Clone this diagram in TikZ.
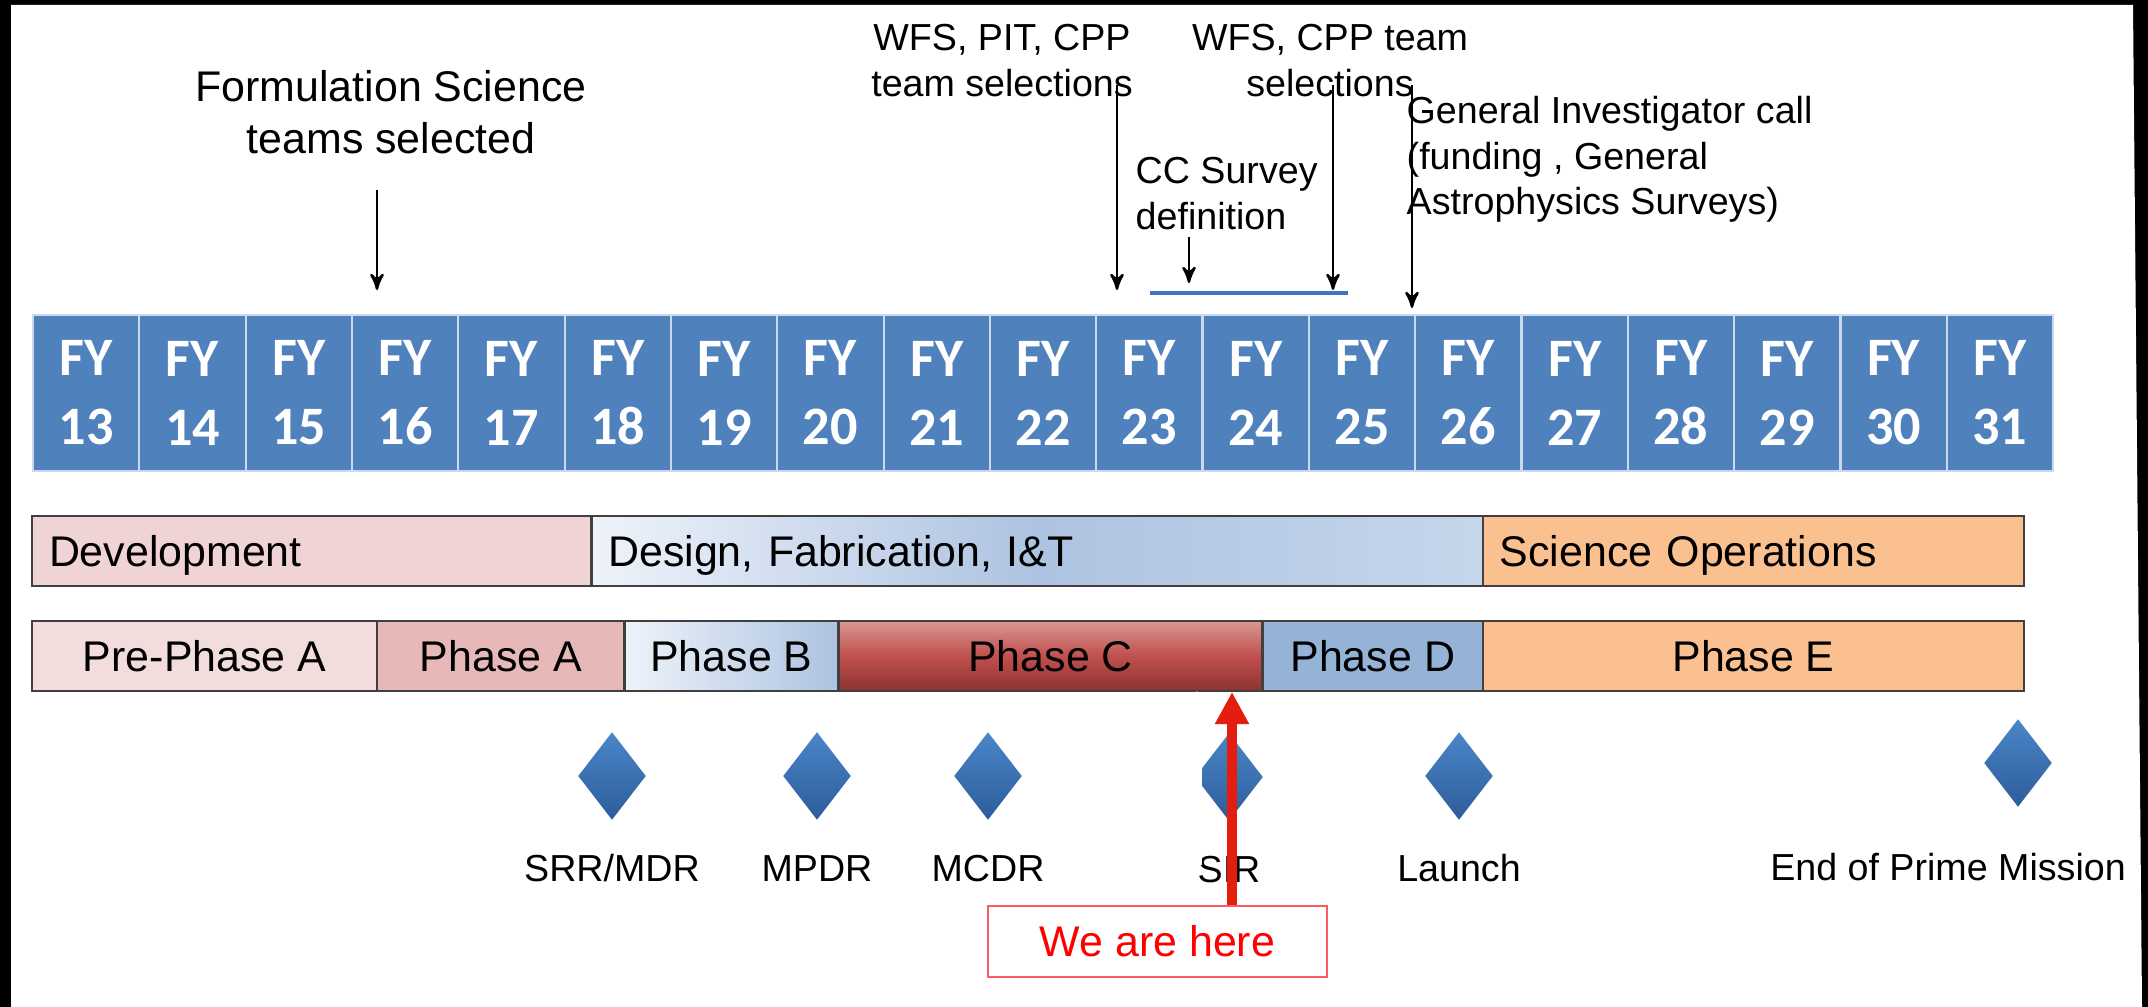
\documentclass[tikz,border=0pt]{standalone}
\usepackage{fontspec}
\setmainfont{Liberation Sans}
\newfontfamily\fyfont{Carlito}
\usepackage{tikz}
\usetikzlibrary{arrows,arrows.meta,positioning,shapes.geometric}

\definecolor{fyblue}{HTML}{4F81BD}
\definecolor{barline}{HTML}{404040}
\definecolor{devpink}{HTML}{F0D3D4}
\definecolor{prepink}{HTML}{F2DDDC}
\definecolor{phApink}{HTML}{E6B9B8}
\definecolor{lightblue}{HTML}{EEF3FA}
\definecolor{midblue}{HTML}{ADC3E1}
\definecolor{paleblue}{HTML}{C6D6EB}
\definecolor{phDblue}{HTML}{95B3D7}
\definecolor{opsorange}{HTML}{FAC090}
\definecolor{redtop}{HTML}{D99694}
\definecolor{redmid}{HTML}{C0504D}
\definecolor{redbot}{HTML}{8C3331}
\definecolor{mstop}{HTML}{4A86C8}
\definecolor{msbot}{HTML}{2D5C9A}
\definecolor{surveyblue}{HTML}{4472C4}
\definecolor{herered}{HTML}{E41E0E}
\definecolor{boxred}{HTML}{FF5A64}

\newcommand{\phasefont}{\fontsize{12.2}{14.6}\selectfont}
\newcommand{\notefont}{\fontsize{10.7}{12.9}\selectfont}
\newcommand{\yearfont}{\fyfont\bfseries\fontsize{15.4}{19.6}\selectfont}

\begin{document}
\begin{tikzpicture}[x=0.01cm, y=-0.01cm, >=stealth', node distance=1.0626cm,
	fycell/.style={draw=white!70!fyblue, line width=0.6pt, fill=fyblue, text=white, minimum width=1.0626cm, minimum height=1.56cm, inner sep=0pt, outer sep=0pt, align=center, font=\yearfont},
	bar/.style={draw=barline, line width=0.7pt, minimum height=0.70cm, inner sep=0pt, outer sep=0pt, font=\phasefont, text height=8.7pt, text depth=0pt},
	leftbar/.style={bar, inner xsep=0.17cm, align=left},
	milestone/.style={diamond, minimum width=0.68cm, minimum height=0.88cm, inner sep=0pt, top color=mstop, bottom color=msbot},
	mslabel/.style={font=\notefont, inner sep=0pt, text height=7.7pt, text depth=0pt},
	note/.style={font=\notefont, inner sep=0pt}]
	\useasboundingbox (0,0) rectangle (2148,1007);
	\fill[black] (0,0) rectangle (2148,1007);
	\fill[white] (11,5) -- (2133,5) -- (2142,1007) -- (11,1007) -- cycle;

	% fiscal years
	\node[fycell] (fy13) at (86.13,393) {FY\\13};
	\node[fycell] (fy14) [right of=fy13] {FY\\14};
	\node[fycell] (fy15) [right of=fy14] {FY\\15};
	\node[fycell] (fy16) [right of=fy15] {FY\\16};
	\node[fycell] (fy17) [right of=fy16] {FY\\17};
	\node[fycell] (fy18) [right of=fy17] {FY\\18};
	\node[fycell] (fy19) [right of=fy18] {FY\\19};
	\node[fycell] (fy20) [right of=fy19] {FY\\20};
	\node[fycell] (fy21) [right of=fy20] {FY\\21};
	\node[fycell] (fy22) [right of=fy21] {FY\\22};
	\node[fycell] (fy23) [right of=fy22] {FY\\23};
	\node[fycell] (fy24) [right of=fy23] {FY\\24};
	\node[fycell] (fy25) [right of=fy24] {FY\\25};
	\node[fycell] (fy26) [right of=fy25] {FY\\26};
	\node[fycell] (fy27) [right of=fy26] {FY\\27};
	\node[fycell] (fy28) [right of=fy27] {FY\\28};
	\node[fycell] (fy29) [right of=fy28] {FY\\29};
	\node[fycell] (fy30) [right of=fy29] {FY\\30};
	\node[fycell] (fy31) [right of=fy30] {FY\\31};

	% activities
	\node[leftbar, fill=devpink, minimum width=5.59cm, text width=5.25cm, anchor=north west] (dev) at (32,516) {Development};
	\node[leftbar, left color=lightblue, right color=paleblue, middle color=midblue, minimum width=8.91cm, text width=8.57cm] (design) [right=0pt of dev] {Design, Fabrication, I\&T};
	\node[leftbar, fill=opsorange, minimum width=5.41cm, text width=5.07cm] (sciops) [right=0pt of design] {Science Operations};

	% phases
	\node[bar, fill=prepink, minimum width=3.45cm, anchor=north west] (pre) at (32,621) {Pre-Phase A};
	\node[bar, fill=phApink, minimum width=2.47cm] (phA) [right=0pt of pre] {Phase A};
	\node[bar, left color=lightblue, right color=midblue, minimum width=2.14cm] (phB) [right=0pt of phA] {Phase B};
	\node[bar, top color=redtop, bottom color=redbot, middle color=redmid, minimum width=4.24cm] (phC) [right=0pt of phB] {Phase C};
	\node[bar, fill=phDblue, minimum width=2.20cm] (phD) [right=0pt of phC] {Phase D};
	\node[bar, fill=opsorange, minimum width=5.41cm] (phE) [right=0pt of phD] {Phase E};

	% milestones
	\node[milestone] (srr) at (612,776) {};
	\node[milestone] (mpdr) at (817,776) {};
	\node[milestone] (mcdr) at (988,776) {};
	\node[milestone] (sir) at (1229,777) {};
	\node[milestone] (launch) at (1459,776) {};
	\node[milestone] (eopm) at (2018,763) {};
	\node[mslabel] (srrtxt) [below=0.33cm of srr] {SRR/MDR};
	\node[mslabel] (mpdrtxt) [below=0.33cm of mpdr] {MPDR};
	\node[mslabel] (mcdrtxt) [below=0.33cm of mcdr] {MCDR};
	\node[mslabel] (sirtxt) [below=0.33cm of sir] {SIR};
	\node[mslabel] (launchtxt) [below=0.33cm of launch] {Launch};
	\node[mslabel] (eopmtxt) at (1948,867) {End of Prime Mission};

	% selections and calls
	\node[font=\phasefont, align=center, inner sep=0pt, anchor=north] (form) at (391,70) {Formulation Science\\teams selected};
	\node[note, align=center, anchor=north] (wfsa) at (1002,24) {WFS, PIT, CPP\\team selections};
	\node[note, align=center, anchor=north] (wfsb) at (1330,24) {WFS, CPP team\\selections};
	\node[note, align=left, anchor=north west] (ccdef) at (1135,157) {CC Survey\\definition};
	\node[note, align=left, anchor=north west] (gicall) at (1406,96) {General Investigator call\\(funding , General\\Astrophysics Surveys)};

	\coordinate (formtop) at (377,190);
	\coordinate (formtip) at (377,290);
	\coordinate (wfsatop) at (1117,85);
	\coordinate (wfsatip) at (1117,290);
	\coordinate (wfsbtop) at (1333,85);
	\coordinate (wfsbtip) at (1333,290);
	\coordinate (cctop) at (1189,237);
	\coordinate (cctip) at (1189,283);
	\coordinate (gitop) at (1412,85);
	\coordinate (gitip) at (1412,308);
	\coordinate (survstart) at (1150,293);
	\coordinate (survend) at (1348,293);

	\path[->, line width=0.7pt]
	(formtop) edge (formtip)
	(wfsatop) edge (wfsatip)
	(wfsbtop) edge (wfsbtip)
	(cctop) edge (cctip)
	(gitop) edge (gitip)
	;
	\draw[surveyblue, line width=1.1pt] (survstart) -- (survend);

	% we are here
	\node[draw=boxred, line width=0.6pt, minimum width=3.39cm, minimum height=0.71cm, font=\phasefont, text=red, inner sep=0pt, text height=8.7pt, text depth=0pt] (here) at (1157.5,941.5) {We are here};
	\coordinate (ghostfoot) at (1197,865);
	\coordinate (ghosttip) at (1197,690);
	\coordinate (nowtip) at (1232,692);
	\draw[white, line width=2.8pt, -{Triangle[length=0.30cm, width=0.27cm]}] (ghostfoot) -- (ghosttip);
	\draw[herered, line width=2.8pt, -{Triangle[length=0.32cm, width=0.32cm]}] (here.north -| nowtip) -- (nowtip);
\end{tikzpicture}
\end{document}
